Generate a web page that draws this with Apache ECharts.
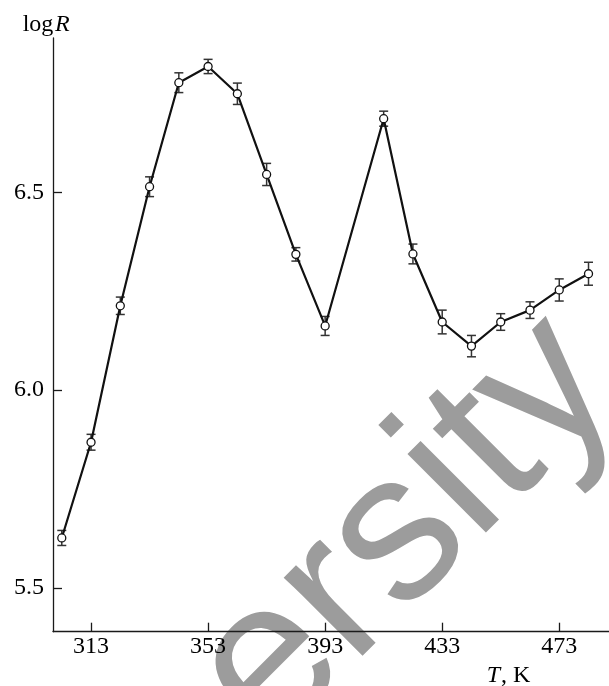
<!DOCTYPE html>
<html>
<head>
<meta charset="utf-8">
<script src="https://cdn.jsdelivr.net/npm/echarts@6/dist/echarts.min.js"></script>
<style>
  html, body { margin: 0; padding: 0; background: #fff; }
  #chart { width: 609px; height: 686px; }
</style>
</head>
<body>
<div id="chart"></div>
<script>
// Temperature (K) and measured log R with error half-widths
const temperatures = [303, 313, 323, 333, 343, 353, 363, 373, 383, 393, 413, 423, 433, 443, 453, 463, 473, 483];
const logR = [5.626, 5.868, 6.213, 6.514, 6.777, 6.818, 6.749, 6.545, 6.343, 6.162, 6.686, 6.344, 6.172, 6.111, 6.172, 6.202, 6.253, 6.294];
const logRError = [0.019, 0.020, 0.022, 0.025, 0.025, 0.018, 0.027, 0.028, 0.017, 0.024, 0.019, 0.025, 0.030, 0.027, 0.021, 0.021, 0.028, 0.029];

// Tick positions
const xTicks = [313, 353, 393, 433, 473];
const yTicks = [5.5, 6.0, 6.5];

const SERIF = '"Liberation Serif", "Times New Roman", serif';
const INK = '#1a1a1a';

const points = temperatures.map((t, i) => [t, logR[i]]);
const bars = temperatures.map((t, i) => [t, logR[i] - logRError[i], logR[i] + logRError[i]]);

const chart = echarts.init(document.getElementById('chart'), null, { renderer: 'canvas' });

const tickLabelStyle = {
  color: '#000',
  fontFamily: SERIF,
  fontSize: 24,
  fontWeight: 'normal',
  fontStyle: 'normal'
};

chart.setOption({
  animation: false,
  backgroundColor: '#fff',
  textStyle: { fontFamily: SERIF, fontSize: 24, color: '#000' },
  grid: { left: 53, top: 38, right: 0, bottom: 54.3, containLabel: false },
  xAxis: {
    type: 'value',
    min: 300,
    max: 490,
    splitLine: { show: false },
    axisLine: { show: true, onZero: false, lineStyle: { color: INK, width: 1.3 } },
    axisTick: { show: true, inside: true, length: 9, customValues: xTicks, lineStyle: { color: INK, width: 1.3 } },
    axisLabel: Object.assign({
      show: true, customValues: xTicks, margin: 3,
      formatter: v => '{t|' + v + '}',
      rich: { t: tickLabelStyle }
    }, tickLabelStyle)
  },
  yAxis: {
    type: 'value',
    min: 5.389,
    max: 6.89,
    splitLine: { show: false },
    axisLine: { show: true, onZero: false, lineStyle: { color: INK, width: 1.3 } },
    axisTick: { show: true, inside: true, length: 9, customValues: yTicks, lineStyle: { color: INK, width: 1.3 } },
    axisLabel: Object.assign({
      show: true, customValues: yTicks, margin: 9,
      formatter: v => '{t|' + Number(v).toFixed(1) + '}',
      rich: { t: tickLabelStyle }
    }, tickLabelStyle)
  },
  graphic: [
    // Background lettering
    {
      type: 'text', z: -10, silent: true,
      x: 303, y: 782, rotation: Math.PI / 4,
      style: {
        text: 'ersity', fill: '#9c9c9c',
        font: '210px "Liberation Sans", Arial, sans-serif',
        align: 'left', verticalAlign: 'bottom'
      }
    },
    // Axis titles
    { type: 'text', x: 22.7, y: 24.5, style: { text: 'log', fill: '#000', font: '24px "Liberation Serif"', align: 'left', verticalAlign: 'middle' } },
    { type: 'text', x: 55, y: 24.5, style: { text: 'R', fill: '#000', font: 'italic 24px "Liberation Serif"', align: 'left', verticalAlign: 'middle' } },
    { type: 'text', x: 486.7, y: 675.5, style: { text: 'T', fill: '#000', font: 'italic 24px "Liberation Serif"', align: 'left', verticalAlign: 'middle' } },
    { type: 'text', x: 501, y: 675.5, style: { text: ', K', fill: '#000', font: '24px "Liberation Serif"', align: 'left', verticalAlign: 'middle' } }
  ],
  series: [
    {
      type: 'custom',
      name: 'error',
      z: 2,
      data: bars,
      encode: { x: 0, y: [1, 2] },
      renderItem: (params, api) => {
        const x = api.value(0);
        const lo = api.coord([x, api.value(1)]);
        const hi = api.coord([x, api.value(2)]);
        const w = 4.5;
        const st = { stroke: '#333', lineWidth: 1.5 };
        return {
          type: 'group',
          children: [
            { type: 'line', shape: { x1: lo[0], y1: lo[1], x2: hi[0], y2: hi[1] }, style: st },
            { type: 'line', shape: { x1: lo[0] - w, y1: lo[1], x2: lo[0] + w, y2: lo[1] }, style: st },
            { type: 'line', shape: { x1: hi[0] - w, y1: hi[1], x2: hi[0] + w, y2: hi[1] }, style: st }
          ]
        };
      }
    },
    {
      type: 'line',
      name: 'logR',
      z: 3,
      data: points,
      symbol: 'circle',
      symbolSize: 8,
      showAllSymbol: true,
      lineStyle: { color: '#111', width: 2.2 },
      itemStyle: { color: '#fff', borderColor: '#111', borderWidth: 1.3 }
    }
  ]
});
</script>
</body>
</html>
